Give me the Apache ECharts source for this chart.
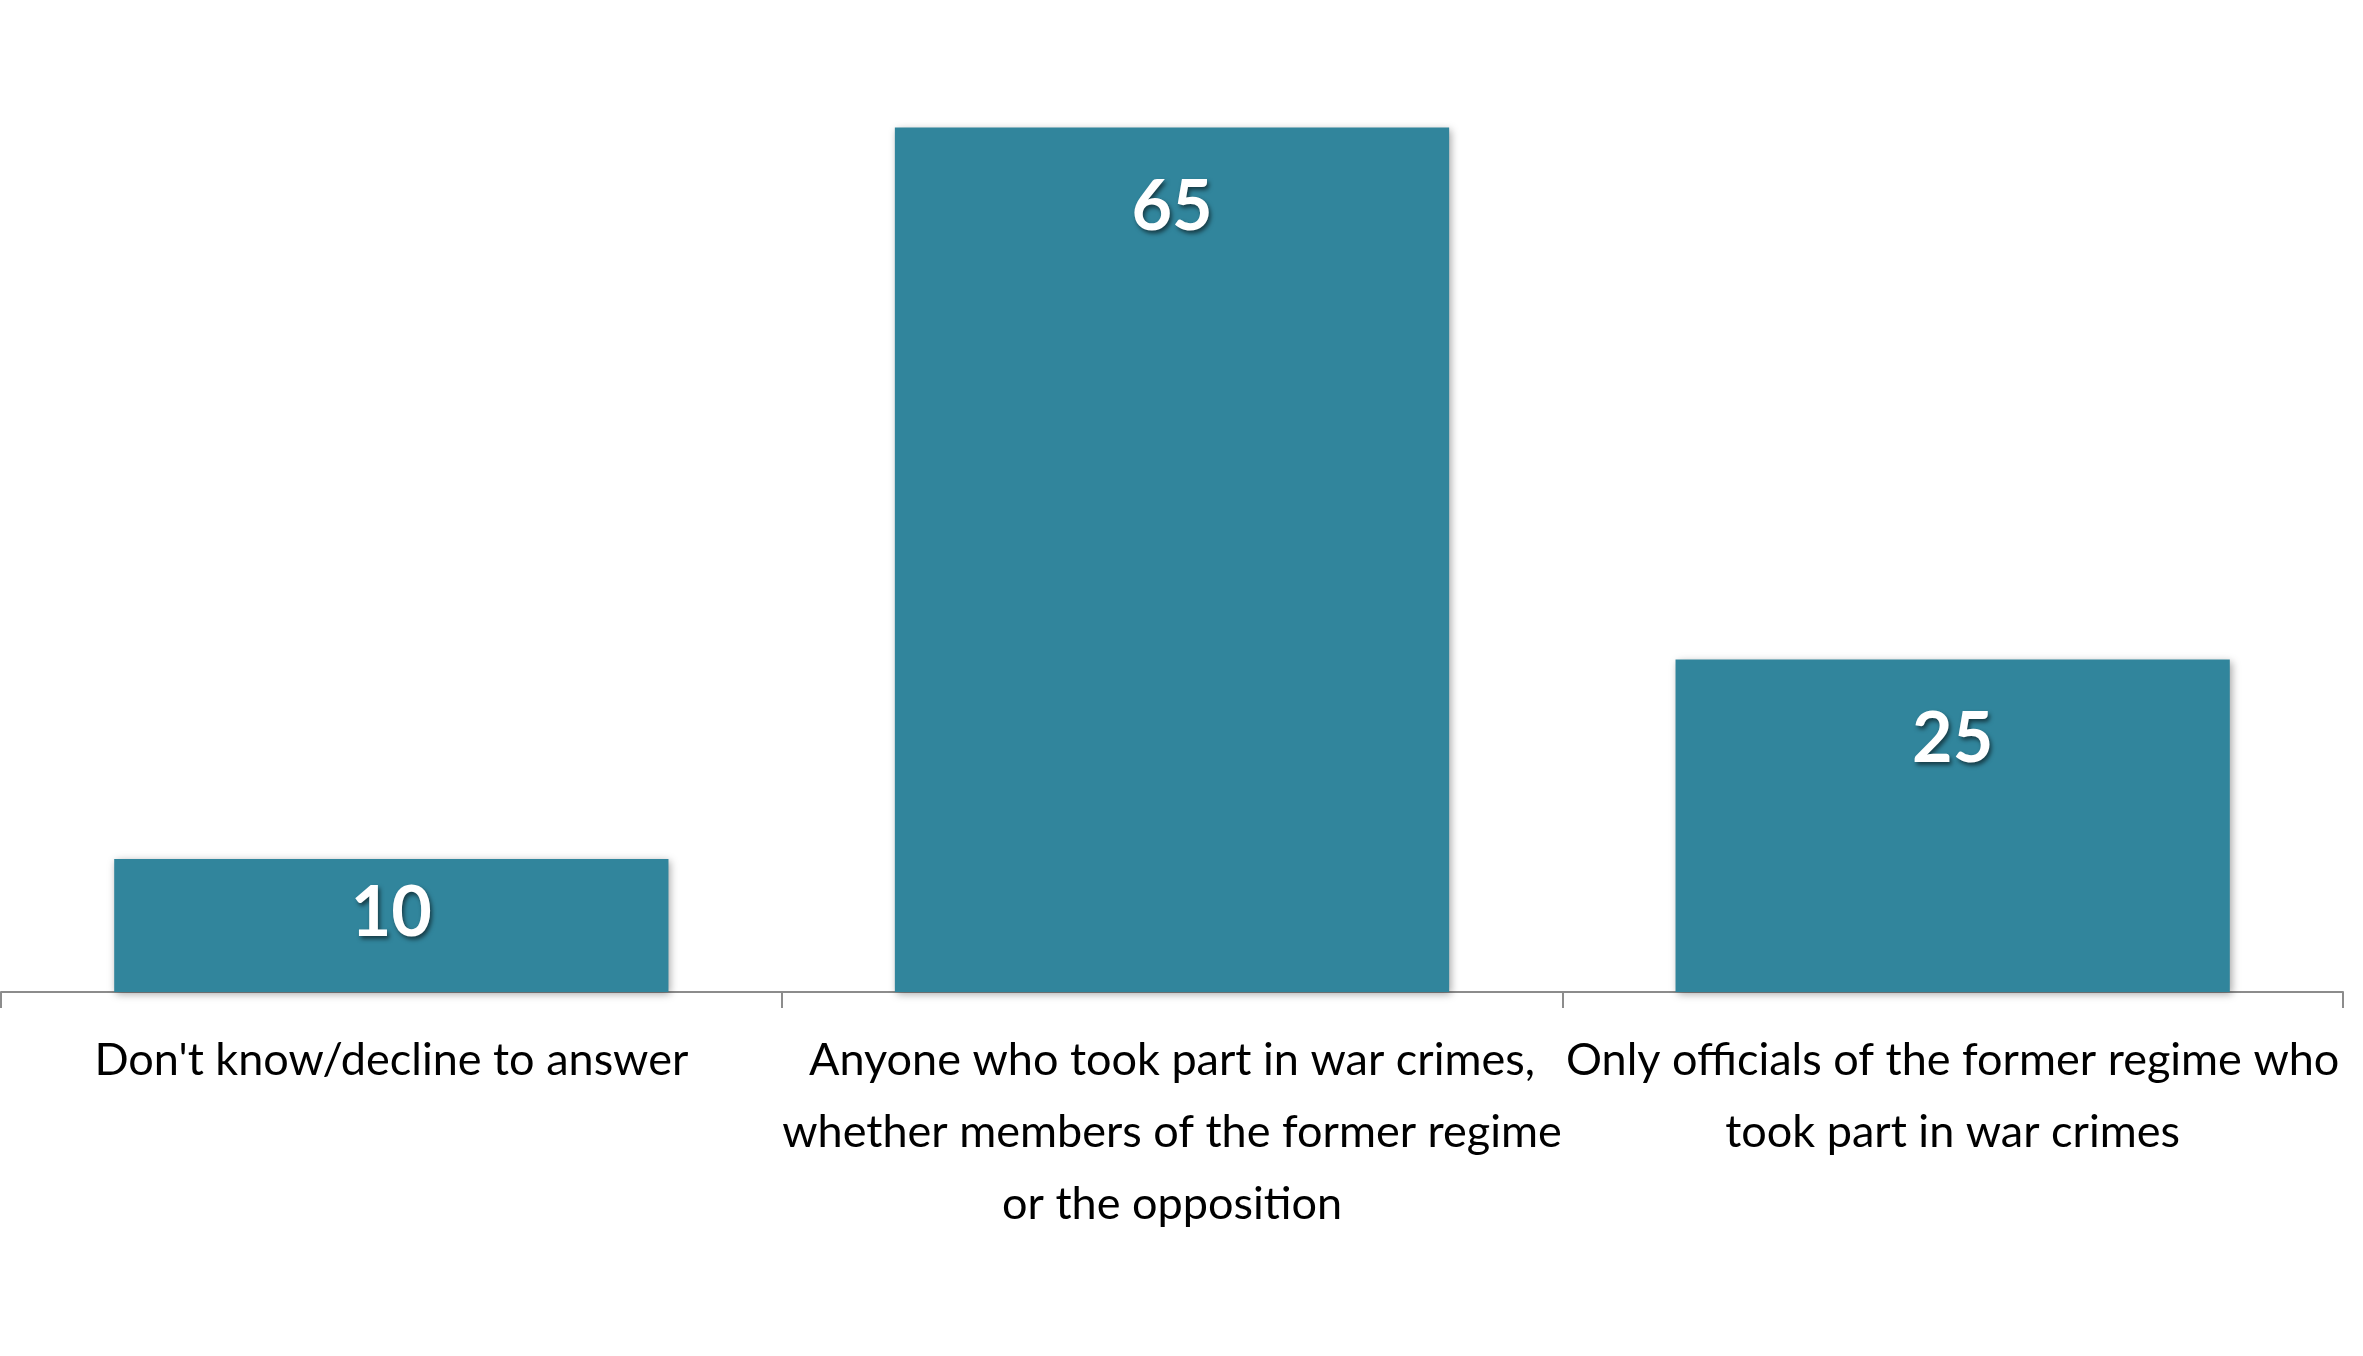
<!DOCTYPE html>
<html><head><meta charset="utf-8">
<script src="https://cdn.jsdelivr.net/npm/echarts@6/dist/echarts.min.js"></script>
<style>html,body{margin:0;padding:0;background:#fff}#c{width:2363px;height:1356px}</style>
</head><body><div id="c"></div>
<script>
const categories = [
  "Don't know/decline to answer",
  "Anyone who took part in war crimes,\nwhether members of the former regime\nor the opposition",
  "Only officials of the former regime who\ntook part in war crimes"
];
const values = [10, 65, 25];

const chart = echarts.init(document.getElementById('c'));
chart.setOption({
  backgroundColor: '#ffffff',
  animation: false,
  grid: { left: 1, right: 20, top: 61, bottom: 364, containLabel: false },
  xAxis: {
    type: 'category',
    data: categories,
    axisLine: { show: true, lineStyle: { color: '#8c8c8c', width: 2 } },
    axisTick: { show: true, alignWithLabel: false, length: 16, lineStyle: { color: '#8c8c8c', width: 2 } },
    axisLabel: {
      color: '#000', fontFamily: 'Lato', fontSize: 45, lineHeight: 72,
      margin: 32, interval: 0
    }
  },
  yAxis: { type: 'value', min: 0, max: 70, show: false, splitLine: { show: false } },
  series: [{
    type: 'bar',
    data: values.map((v, i) => ({ value: v, label: { distance: i === 0 ? 19 : 45 } })),
    barCategoryGap: '29%',
    itemStyle: {
      color: '#31859C',
      shadowColor: 'rgba(0,0,0,0.35)', shadowBlur: 8, shadowOffsetX: 2, shadowOffsetY: 2
    },
    label: {
      show: true, position: 'insideTop', color: '#fff',
      fontFamily: 'Lato', fontWeight: 'bold', fontSize: 70,
      textShadowColor: 'rgba(0,0,0,0.55)', textShadowBlur: 4,
      textShadowOffsetX: 2, textShadowOffsetY: 3
    }
  }]
});
</script></body></html>
